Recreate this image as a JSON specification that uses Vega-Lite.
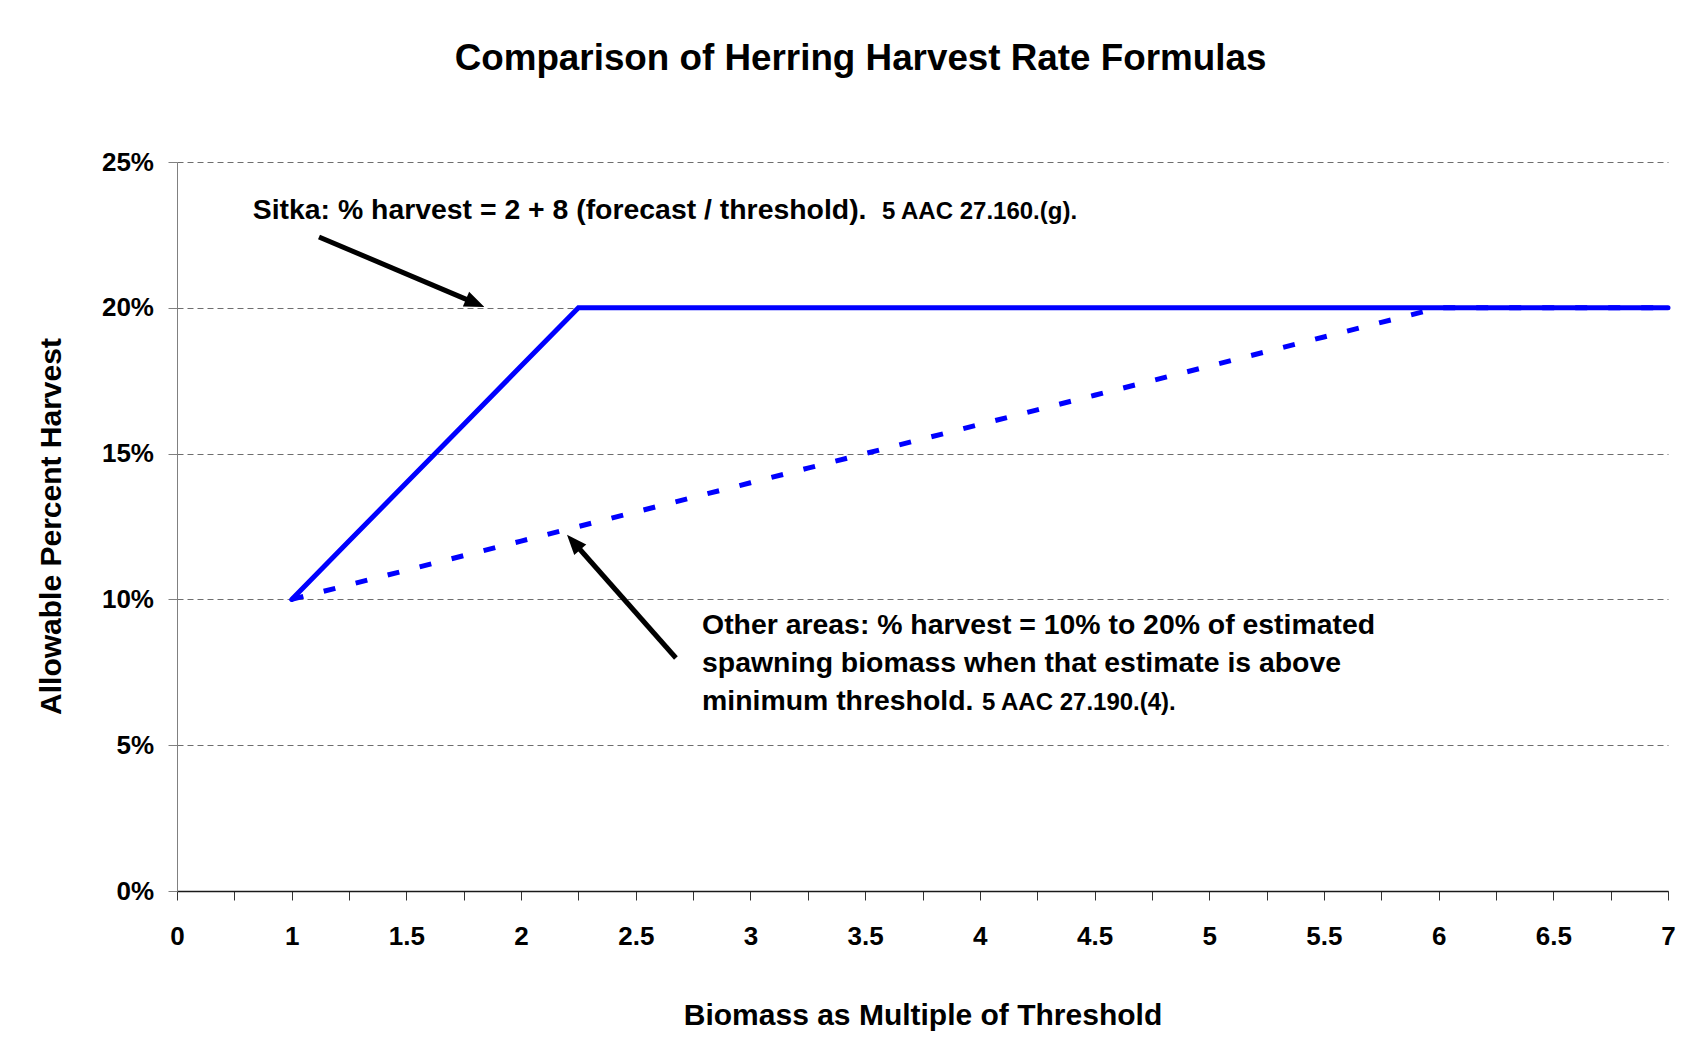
{
  "$schema": "https://vega.github.io/schema/vega-lite/v6.json",
  "autosize": {"type": "none"},
  "padding": {"left": 177, "top": 162, "right": 39, "bottom": 157},
  "width": 1491,
  "height": 729,
  "background": "white",
  "config": {
    "view": {"stroke": null},
    "font": "Liberation Sans",
    "text": {"font": "Liberation Sans", "fontWeight": "bold", "color": "black"}
  },
  "title": {
    "text": "Comparison of Herring Harvest Rate Formulas",
    "font": "Liberation Sans",
    "fontSize": 36.8,
    "fontWeight": "bold",
    "color": "black",
    "anchor": "middle",
    "dx": -62,
    "offset": 71
  },
  "datasets": {
    "lines": [
      {"series": "Sitka", "biomass": 1, "pct": 10},
      {"series": "Sitka", "biomass": 1.25, "pct": 12},
      {"series": "Sitka", "biomass": 1.5, "pct": 14},
      {"series": "Sitka", "biomass": 1.75, "pct": 16},
      {"series": "Sitka", "biomass": 2, "pct": 18},
      {"series": "Sitka", "biomass": 2.25, "pct": 20},
      {"series": "Sitka", "biomass": 2.5, "pct": 20},
      {"series": "Sitka", "biomass": 2.75, "pct": 20},
      {"series": "Sitka", "biomass": 3, "pct": 20},
      {"series": "Sitka", "biomass": 3.25, "pct": 20},
      {"series": "Sitka", "biomass": 3.5, "pct": 20},
      {"series": "Sitka", "biomass": 3.75, "pct": 20},
      {"series": "Sitka", "biomass": 4, "pct": 20},
      {"series": "Sitka", "biomass": 4.25, "pct": 20},
      {"series": "Sitka", "biomass": 4.5, "pct": 20},
      {"series": "Sitka", "biomass": 4.75, "pct": 20},
      {"series": "Sitka", "biomass": 5, "pct": 20},
      {"series": "Sitka", "biomass": 5.25, "pct": 20},
      {"series": "Sitka", "biomass": 5.5, "pct": 20},
      {"series": "Sitka", "biomass": 5.75, "pct": 20},
      {"series": "Sitka", "biomass": 6, "pct": 20},
      {"series": "Sitka", "biomass": 6.25, "pct": 20},
      {"series": "Sitka", "biomass": 6.5, "pct": 20},
      {"series": "Sitka", "biomass": 6.75, "pct": 20},
      {"series": "Sitka", "biomass": 7, "pct": 20},
      {"series": "Other", "biomass": 1, "pct": 10},
      {"series": "Other", "biomass": 1.25, "pct": 10.5},
      {"series": "Other", "biomass": 1.5, "pct": 11},
      {"series": "Other", "biomass": 1.75, "pct": 11.5},
      {"series": "Other", "biomass": 2, "pct": 12},
      {"series": "Other", "biomass": 2.25, "pct": 12.5},
      {"series": "Other", "biomass": 2.5, "pct": 13},
      {"series": "Other", "biomass": 2.75, "pct": 13.5},
      {"series": "Other", "biomass": 3, "pct": 14},
      {"series": "Other", "biomass": 3.25, "pct": 14.5},
      {"series": "Other", "biomass": 3.5, "pct": 15},
      {"series": "Other", "biomass": 3.75, "pct": 15.5},
      {"series": "Other", "biomass": 4, "pct": 16},
      {"series": "Other", "biomass": 4.25, "pct": 16.5},
      {"series": "Other", "biomass": 4.5, "pct": 17},
      {"series": "Other", "biomass": 4.75, "pct": 17.5},
      {"series": "Other", "biomass": 5, "pct": 18},
      {"series": "Other", "biomass": 5.25, "pct": 18.5},
      {"series": "Other", "biomass": 5.5, "pct": 19},
      {"series": "Other", "biomass": 5.75, "pct": 19.5},
      {"series": "Other", "biomass": 6, "pct": 20},
      {"series": "Other", "biomass": 6.25, "pct": 20},
      {"series": "Other", "biomass": 6.5, "pct": 20},
      {"series": "Other", "biomass": 6.75, "pct": 20},
      {"series": "Other", "biomass": 7, "pct": 20}
    ],
    "notes": [
      {"kind": "note", "text": "Sitka: % harvest = 2 + 8 (forecast / threshold).", "biomass": 0.66, "pct": 23.04},
      {"kind": "cite", "text": "5 AAC 27.160.(g).", "biomass": 3.573, "pct": 23.04},
      {"kind": "note", "text": "Other areas: % harvest = 10% to 20% of estimated", "biomass": 2.789, "pct": 8.82},
      {"kind": "note", "text": "spawning biomass when that estimate is above", "biomass": 2.789, "pct": 7.51},
      {"kind": "note", "text": "minimum threshold.", "biomass": 2.789, "pct": 6.2},
      {"kind": "cite", "text": "5 AAC 27.190.(4).", "biomass": 4.009, "pct": 6.2}
    ],
    "arrows": [
      {"arrow": "Sitka", "biomass": 1.119, "pct": 22.43, "biomass2": 1.8, "pct2": 20.16},
      {"arrow": "Other", "biomass": 2.675, "pct": 7.99, "biomass2": 2.229, "pct2": 11.96}
    ]
  },
  "layer": [
    {
      "data": {"name": "lines"},
      "transform": [{"filter": "datum.series === 'Sitka'"}],
      "mark": {"type": "line", "color": "#0000FF", "strokeWidth": 5, "strokeCap": "round", "strokeJoin": "miter"},
      "encoding": {
        "x": {
          "field": "biomass",
          "type": "quantitative",
          "scale": {"type": "linear", "domain": [0, 1, 7], "range": [0, 114.7, 1491], "nice": false, "zero": false},
          "axis": {
            "title": "Biomass as Multiple of Threshold",
            "titleFont": "Liberation Sans",
            "titleFontSize": 30,
            "titleFontWeight": "bold",
            "titleColor": "black",
            "titleX": 745.5,
            "titleY": 124.5,
            "titleBaseline": "middle",
            "titleAlign": "center",
            "values": [0, 0.5, 1, 1.25, 1.5, 1.75, 2, 2.25, 2.5, 2.75, 3, 3.25, 3.5, 3.75, 4, 4.25, 4.5, 4.75, 5, 5.25, 5.5, 5.75, 6, 6.25, 6.5, 6.75, 7],
            "labelExpr": "(datum.value === 0.5 || (datum.value * 4) % 2 === 1) ? '' : '' + datum.value",
            "labelFont": "Liberation Sans",
            "labelFontSize": 26,
            "labelFontWeight": "bold",
            "labelColor": "black",
            "labelBaseline": "middle",
            "labelPadding": 36.5,
            "labelOverlap": false,
            "labelFlush": false,
            "tickSize": 9,
            "tickColor": "#333333",
            "tickWidth": 1,
            "domainColor": "#1a1a1a",
            "domainWidth": 1.5,
            "grid": false
          }
        },
        "y": {
          "field": "pct",
          "type": "quantitative",
          "scale": {"domain": [0, 25], "nice": false, "zero": true},
          "axis": {
            "title": "Allowable Percent Harvest",
            "titleFont": "Liberation Sans",
            "titleFontSize": 30,
            "titleFontWeight": "bold",
            "titleColor": "black",
            "titleX": -126,
            "titleY": 364,
            "titleAngle": -90,
            "titleBaseline": "middle",
            "titleAlign": "center",
            "values": [0, 5, 10, 15, 20, 25],
            "labelExpr": "datum.value + '%'",
            "labelFont": "Liberation Sans",
            "labelFontSize": 26,
            "labelFontWeight": "bold",
            "labelColor": "black",
            "labelPadding": 14.5,
            "labelFlush": false,
            "tickSize": 9,
            "tickColor": "#808080",
            "domainColor": "#808080",
            "domainWidth": 1,
            "grid": true,
            "gridColor": "#6e6e6e",
            "gridDash": [6, 4],
            "gridWidth": 1
          }
        }
      }
    },
    {
      "data": {"name": "lines"},
      "transform": [{"filter": "datum.series === 'Other'"}],
      "mark": {"type": "line", "color": "#0000FF", "strokeWidth": 5, "strokeDash": [12, 21]},
      "encoding": {
        "x": {"field": "biomass", "type": "quantitative"},
        "y": {"field": "pct", "type": "quantitative"}
      }
    },
    {
      "data": {"name": "arrows"},
      "mark": {"type": "rule", "color": "black", "strokeWidth": 5},
      "encoding": {
        "x": {"field": "biomass", "type": "quantitative"},
        "y": {"field": "pct", "type": "quantitative"},
        "x2": {"field": "biomass2"},
        "y2": {"field": "pct2"}
      }
    },
    {
      "data": {"name": "arrows"},
      "transform": [{"filter": "datum.arrow === 'Sitka'"}],
      "mark": {"type": "point", "shape": "M-0.8,1L0,-1L0.8,1Z", "size": 400, "angle": 113, "filled": true, "color": "black", "opacity": 1},
      "encoding": {
        "x": {"field": "biomass2", "type": "quantitative"},
        "y": {"field": "pct2", "type": "quantitative"}
      }
    },
    {
      "data": {"name": "arrows"},
      "transform": [{"filter": "datum.arrow === 'Other'"}],
      "mark": {"type": "point", "shape": "M-0.8,1L0,-1L0.8,1Z", "size": 400, "angle": 318.4, "filled": true, "color": "black", "opacity": 1},
      "encoding": {
        "x": {"field": "biomass2", "type": "quantitative"},
        "y": {"field": "pct2", "type": "quantitative"}
      }
    },
    {
      "data": {"name": "notes"},
      "transform": [{"filter": "datum.kind === 'note'"}],
      "mark": {"type": "text", "align": "left", "baseline": "alphabetic", "fontSize": 28.4, "fontWeight": "bold", "font": "Liberation Sans", "color": "black"},
      "encoding": {
        "x": {"field": "biomass", "type": "quantitative"},
        "y": {"field": "pct", "type": "quantitative"},
        "text": {"field": "text"}
      }
    },
    {
      "data": {"name": "notes"},
      "transform": [{"filter": "datum.kind === 'cite'"}],
      "mark": {"type": "text", "align": "left", "baseline": "alphabetic", "fontSize": 24, "fontWeight": "bold", "font": "Liberation Sans", "color": "black"},
      "encoding": {
        "x": {"field": "biomass", "type": "quantitative"},
        "y": {"field": "pct", "type": "quantitative"},
        "text": {"field": "text"}
      }
    }
  ]
}
